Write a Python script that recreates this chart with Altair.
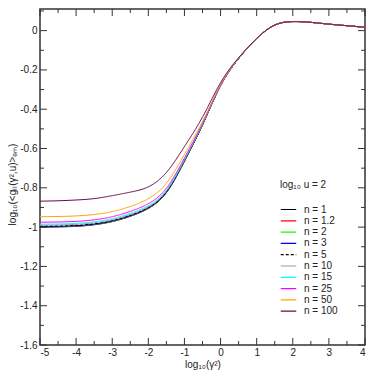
import altair as alt
import pandas as pd

# x grid: log10(gamma^2)
x_vals = [-5, -4.5, -4, -3.5, -3, -2.5, -2, -1.5, -1, -0.5, 0, 0.5, 1, 1.5, 2, 2.5, 3, 3.5, 4]
tail = [-0.04, 0.028, 0.046, 0.042, 0.033, 0.025, 0.017]

labels = ["n = 1", "n = 1.2", "n = 2", "n = 3", "n = 5", "n = 10", "n = 15", "n = 25", "n = 50", "n = 100"]
colors = ["#000000", "#ff0000", "#00ff00", "#0000ff", "#000000", "#bc8f8f", "#00ffff", "#ff00ff", "#ffa500", "#670748"]
dashes = [[1, 0], [1, 0], [1, 0], [1, 0], [3, 2], [1, 0], [1, 0], [1, 0], [1, 0], [1, 0]]

y_n1 = [-1.000, -0.999, -0.996, -0.988, -0.972, -0.945, -0.905, -0.825, -0.665, -0.480, -0.280, -0.142] + tail
y_n1_2 = [-0.999, -0.998, -0.995, -0.987, -0.971, -0.944, -0.904, -0.824, -0.664, -0.480, -0.280, -0.142] + tail
y_n2 = [-0.998, -0.997, -0.994, -0.986, -0.970, -0.943, -0.903, -0.823, -0.664, -0.479, -0.280, -0.142] + tail
y_n3 = [-0.997, -0.996, -0.993, -0.985, -0.969, -0.942, -0.902, -0.822, -0.663, -0.479, -0.280, -0.142] + tail
y_n5 = [-0.995, -0.994, -0.991, -0.983, -0.967, -0.940, -0.900, -0.820, -0.661, -0.478, -0.280, -0.142] + tail
y_n10 = [-0.990, -0.989, -0.986, -0.978, -0.962, -0.935, -0.896, -0.816, -0.658, -0.476, -0.279, -0.142] + tail
y_n15 = [-0.985, -0.984, -0.981, -0.973, -0.957, -0.930, -0.891, -0.811, -0.655, -0.474, -0.278, -0.141] + tail
y_n25 = [-0.975, -0.974, -0.971, -0.963, -0.947, -0.920, -0.881, -0.802, -0.648, -0.471, -0.277, -0.141] + tail
y_n50 = [-0.947, -0.946, -0.943, -0.936, -0.921, -0.895, -0.855, -0.777, -0.630, -0.462, -0.274, -0.140] + tail
y_n100 = [-0.868, -0.866, -0.862, -0.855, -0.840, -0.822, -0.795, -0.722, -0.590, -0.440, -0.265, -0.138] + tail

series = [y_n1, y_n1_2, y_n2, y_n3, y_n5, y_n10, y_n15, y_n25, y_n50, y_n100]

x_major = [-5, -4, -3, -2, -1, 0, 1, 2, 3, 4]
x_minor = [-4.5, -3.5, -2.5, -1.5, -0.5, 0.5, 1.5, 2.5, 3.5]
y_major = [-1.6, -1.4, -1.2, -1.0, -0.8, -0.6, -0.4, -0.2, 0]
y_minor = [-1.5, -1.3, -1.1, -0.9, -0.7, -0.5, -0.3, -0.1, 0.1]

X_MIN, X_MAX = -5, 4
Y_MIN, Y_MAX = -1.6, 0.11

rows = []
for i, (lab, ys) in enumerate(zip(labels, series)):
    for xv, yv in zip(x_vals, ys):
        rows.append({"x": xv, "y": yv, "n": lab, "order": i})
df = pd.DataFrame(rows)

W, H = 325, 336
FONT = "Liberation Sans"
FRAME = "#333333"

xscale = alt.Scale(domain=[X_MIN, X_MAX], nice=False, zero=False)
yscale = alt.Scale(domain=[Y_MIN, Y_MAX], nice=False, zero=False)

xaxis = alt.Axis(
    orient="bottom", values=x_major, ticks=False, domain=False, grid=False,
    labelExpr="'' + datum.value", labelFont=FONT, labelFontSize=10, labelColor="#222",
    labelPadding=2, title="log₁₀(γ²)", titleFont=FONT, titleFontSize=10,
    titleFontWeight="normal", titleColor="#222", titlePadding=2)
yaxis = alt.Axis(
    orient="left", values=y_major, ticks=False, domain=False, grid=False,
    labelExpr="'' + datum.value", labelFont=FONT, labelFontSize=10, labelColor="#222",
    labelPadding=3, title="log₁₀(<gₗₗ(γ²,u)>ₑₘ)", titleFont=FONT, titleFontSize=10,
    titleFontWeight="normal", titleColor="#222", titleX=-23, titleY=H / 2 + 7)

legend_kw = dict(
    title="log₁₀ u = 2", orient="none", legendX=240, legendY=171,
    symbolType="stroke", symbolSize=240, symbolStrokeWidth=1.2,
    titleFont=FONT, titleFontSize=10, titleFontWeight="normal",
    titleColor="#222", titlePadding=14, labelFont=FONT,
    labelFontSize=10, labelColor="#222", labelOffset=7,
    clipHeight=11, rowPadding=0.3, padding=0)

lines = alt.Chart(df).mark_line(strokeWidth=1, interpolate="natural").encode(
    x=alt.X("x:Q", scale=xscale, axis=xaxis),
    y=alt.Y("y:Q", scale=yscale, axis=yaxis),
    color=alt.Color("n:N", sort=labels, scale=alt.Scale(domain=labels, range=colors),
                    legend=alt.Legend(**legend_kw)),
    strokeDash=alt.StrokeDash("n:N", sort=labels,
                              scale=alt.Scale(domain=labels, range=dashes),
                              legend=alt.Legend(**legend_kw)),
    order=alt.Order("order:Q"),
)


def xticks(vals, at, size, off):
    d = pd.DataFrame({"x": vals, "y": [at] * len(vals)})
    return alt.Chart(d).mark_tick(
        orient="vertical", size=size, thickness=1, color=FRAME, opacity=1, yOffset=off
    ).encode(
        x=alt.X("x:Q", scale=xscale, axis=None),
        y=alt.Y("y:Q", scale=yscale, axis=None),
    )


def yticks(vals, at, size, off):
    d = pd.DataFrame({"y": vals, "x": [at] * len(vals)})
    return alt.Chart(d).mark_tick(
        orient="horizontal", size=size, thickness=1, color=FRAME, opacity=1, xOffset=off
    ).encode(
        x=alt.X("x:Q", scale=xscale, axis=None),
        y=alt.Y("y:Q", scale=yscale, axis=None),
    )


layers = [
    lines,
    xticks(x_major, Y_MIN, 7, -3.5),
    xticks(x_minor, Y_MIN, 4, -2),
    xticks(x_major, Y_MAX, 7, 3.5),
    xticks(x_minor, Y_MAX, 4, 2),
    yticks(y_major, X_MIN, 7, 3.5),
    yticks(y_minor, X_MIN, 4, 2),
    yticks(y_major, X_MAX, 7, -3.5),
    yticks(y_minor, X_MAX, 4, -2),
]

chart = alt.layer(*layers).resolve_axis(x="independent", y="independent").properties(
    width=W, height=H,
    autosize=alt.AutoSizeParams(type="none"),
    padding={"left": 32, "top": 1, "right": 1, "bottom": 29},
    background="white",
).configure_view(stroke=FRAME, strokeWidth=1.5)

chart.save("out.html", embed_options={"renderer": "svg", "actions": False})
